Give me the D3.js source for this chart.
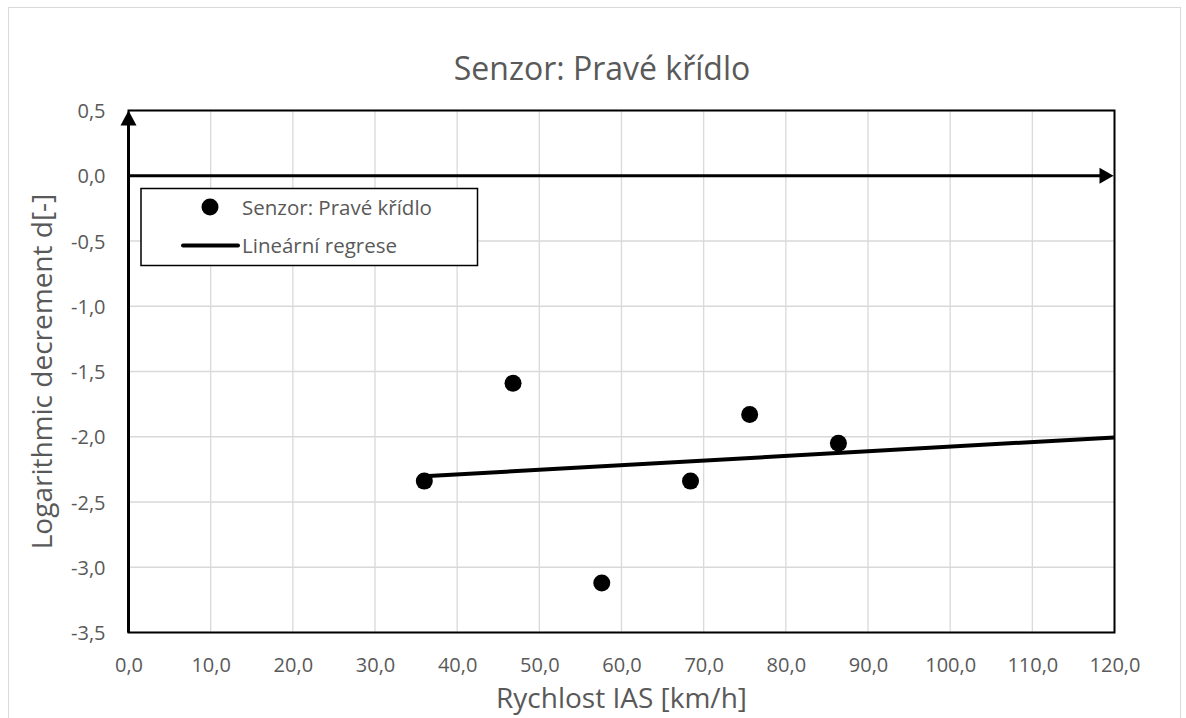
<!DOCTYPE html>
<html><head><meta charset="utf-8">
<script src="https://cdn.jsdelivr.net/npm/d3@7"></script>
<style>body{margin:0;background:#fff;}svg{display:block;font-family:"Open Sans",sans-serif;}</style>
</head><body>
<svg id="c" width="1186" height="718"></svg>
<script>
const speed = [36.0, 46.8, 57.6, 68.4, 75.6, 86.4];
const decrement = [-2.34, -1.59, -3.12, -2.34, -1.83, -2.05];
const xTicks = [0,10,20,30,40,50,60,70,80,90,100,110,120];
const yTicks = [0.5,0,-0.5,-1,-1.5,-2,-2.5,-3,-3.5];
const title = "Senzor: Pravé křídlo";
const xTitle = "Rychlost IAS [km/h]";
const yTitle = "Logarithmic decrement d[-]";
const legendLabels = ["Senzor: Pravé křídlo", "Lineární regrese"];

const svg = d3.select("#c");
const L = 128.5, R = 1114.5, T = 110.5, B = 632.5;
const x = d3.scaleLinear().domain([0,120]).range([L,R]);
const y = d3.scaleLinear().domain([-3.5,0.5]).range([B,T]);
const grey = "#595959";
const fmt = v => d3.format(".1f")(v).replace(".", ",").replace("−","-");

// outer border
svg.append("rect").attr("x",8.5).attr("y",7.5).attr("width",1172).attr("height",730)
  .attr("fill","#fff").attr("stroke","#d9d9d9").attr("stroke-width",1);

// gridlines
svg.append("g").selectAll("line.v").data(xTicks).join("line")
  .attr("x1",d=>x(d)).attr("x2",d=>x(d)).attr("y1",T).attr("y2",B)
  .attr("stroke","#d9d9d9").attr("stroke-width",1.3);
svg.append("g").selectAll("line.h").data(yTicks).join("line")
  .attr("x1",L).attr("x2",R).attr("y1",d=>y(d)).attr("y2",d=>y(d))
  .attr("stroke","#d9d9d9").attr("stroke-width",1.3);

// frame
svg.append("rect").attr("x",L).attr("y",T).attr("width",R-L).attr("height",B-T)
  .attr("fill","none").attr("stroke","#000").attr("stroke-width",2);

// axes via d3
const xAxis = d3.axisBottom(x).tickValues(xTicks).tickFormat(fmt).tickSize(0).tickPadding(0);
const gx = svg.append("g").attr("transform",`translate(0,${B})`).call(xAxis);
gx.select(".domain").remove();
gx.selectAll("text").attr("y",0).attr("dy",null).attr("transform","translate(0,39.5)")
  .attr("fill",grey).attr("font-size",20).attr("font-family","Open Sans");

const yAxis = d3.axisLeft(y).tickValues(yTicks).tickFormat(fmt).tickSize(0).tickPadding(0);
const gy = svg.append("g").attr("transform",`translate(${L},0)`).call(yAxis);
gy.select(".domain").remove();
gy.selectAll("text").attr("x",-23).attr("dy","0.35em")
  .attr("fill",grey).attr("font-size",20).attr("font-family","Open Sans");

// y axis line with arrow
svg.append("line").attr("x1",L).attr("x2",L).attr("y1",B).attr("y2",T+14)
  .attr("stroke","#000").attr("stroke-width",3);
svg.append("path").attr("d",`M${L},${T} L${L-8},${T+15} L${L+8},${T+15} Z`).attr("fill","#000");
// x axis at 0 with arrow
svg.append("line").attr("x1",L).attr("x2",R-14).attr("y1",y(0)).attr("y2",y(0))
  .attr("stroke","#000").attr("stroke-width",3);
svg.append("path").attr("d",`M${R-1},${y(0)} L${R-15},${y(0)-8} L${R-15},${y(0)+8} Z`).attr("fill","#000");

// regression
const mx = d3.mean(speed), my = d3.mean(decrement);
let sxy=0, sxx=0;
speed.forEach((v,i)=>{sxy+=(v-mx)*(decrement[i]-my); sxx+=(v-mx)*(v-mx);});
const slope = sxy/sxx, icpt = my - slope*mx;
const regX = [d3.min(speed), 120];
svg.append("line")
  .attr("x1",x(regX[0])).attr("y1",y(icpt+slope*regX[0]))
  .attr("x2",x(regX[1])).attr("y2",y(icpt+slope*regX[1]))
  .attr("stroke","#000").attr("stroke-width",4);

// points
svg.append("g").selectAll("circle").data(speed).join("circle")
  .attr("cx",d=>x(d)).attr("cy",(d,i)=>y(decrement[i])).attr("r",8.5).attr("fill","#000");

// legend
const lg = svg.append("g");
lg.append("rect").attr("x",141).attr("y",188.5).attr("width",336.5).attr("height",77)
  .attr("fill","#fff").attr("stroke","#000").attr("stroke-width",1.5);
lg.append("circle").attr("cx",210).attr("cy",207).attr("r",8.5).attr("fill","#000");
lg.append("line").attr("x1",183).attr("x2",238).attr("y1",245.5).attr("y2",245.5)
  .attr("stroke","#000").attr("stroke-width",4).attr("stroke-linecap","round");
lg.selectAll("text").data(legendLabels).join("text")
  .attr("x",242).attr("y",(d,i)=>[214.5,253][i]).text(d=>d)
  .attr("fill",grey).attr("font-size",20.5);

// titles
svg.append("text").attr("x",602).attr("y",80).attr("text-anchor","middle")
  .attr("fill",grey).attr("font-size",32).text(title);
svg.append("text").attr("x",(L+R)/2).attr("y",708).attr("text-anchor","middle")
  .attr("fill",grey).attr("font-size",28).text(xTitle);
svg.append("text").attr("transform",`translate(52,${(T+B)/2}) rotate(-90)`).attr("text-anchor","middle")
  .attr("fill",grey).attr("font-size",28).text(yTitle);
</script>
</body></html>
